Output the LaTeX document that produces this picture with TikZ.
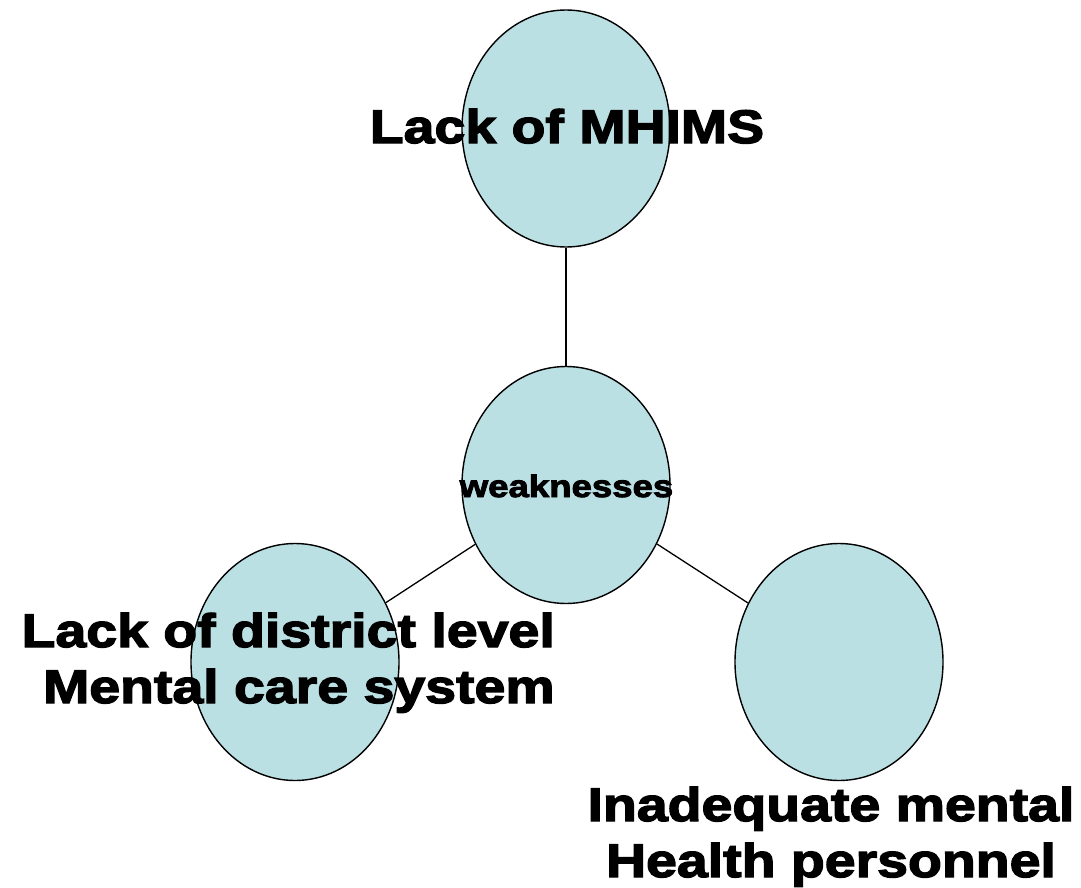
\documentclass[tikz,border=0pt]{standalone}
\usepackage{fontspec}
\usetikzlibrary{shapes.geometric}
\newfontfamily\bk{Liberation Sans Bold}[FakeStretch=1.18,FakeBold=3]
\definecolor{bubble}{RGB}{187,224,227}
\tikzset{
  bubble/.style={ellipse, draw=black, line width=1.4pt, fill=bubble,
    minimum width=208pt, minimum height=237pt, inner sep=0pt},
  conn/.style={draw=black, line width=1.3pt},
  bigtext/.style={font=\bk\fontsize{47}{56}\selectfont, inner sep=0pt},
  smalltext/.style={font=\bk\fontsize{31}{36}\selectfont, inner sep=0pt}
}
\begin{document}
\begin{tikzpicture}[x=1pt,y=-1pt]
\useasboundingbox (0,0) rectangle (1081,888);
\node[bubble] (top) at (566,128.5) {};
\node[bubble] (mid) at (566,485) {};
\node[bubble] (left) at (295,662) {};
\node[bubble] (right) at (839,662) {};
\draw[conn] (top) -- (mid);
\draw[conn] (mid) -- (left);
\draw[conn] (mid) -- (right);
\node[bigtext, anchor=base] (t1) at (567,143) {Lack of MHIMS};
\node[smalltext, anchor=base] (t2) at (566.5,497) {weaknesses};
\node[bigtext, anchor=base east, align=right] (t3) at (555,703) {Lack of district level\\Mental care system};
\node[bigtext, anchor=base, align=center] (t4) at (831,877) {Inadequate mental\\Health personnel};
\end{tikzpicture}
\end{document}
